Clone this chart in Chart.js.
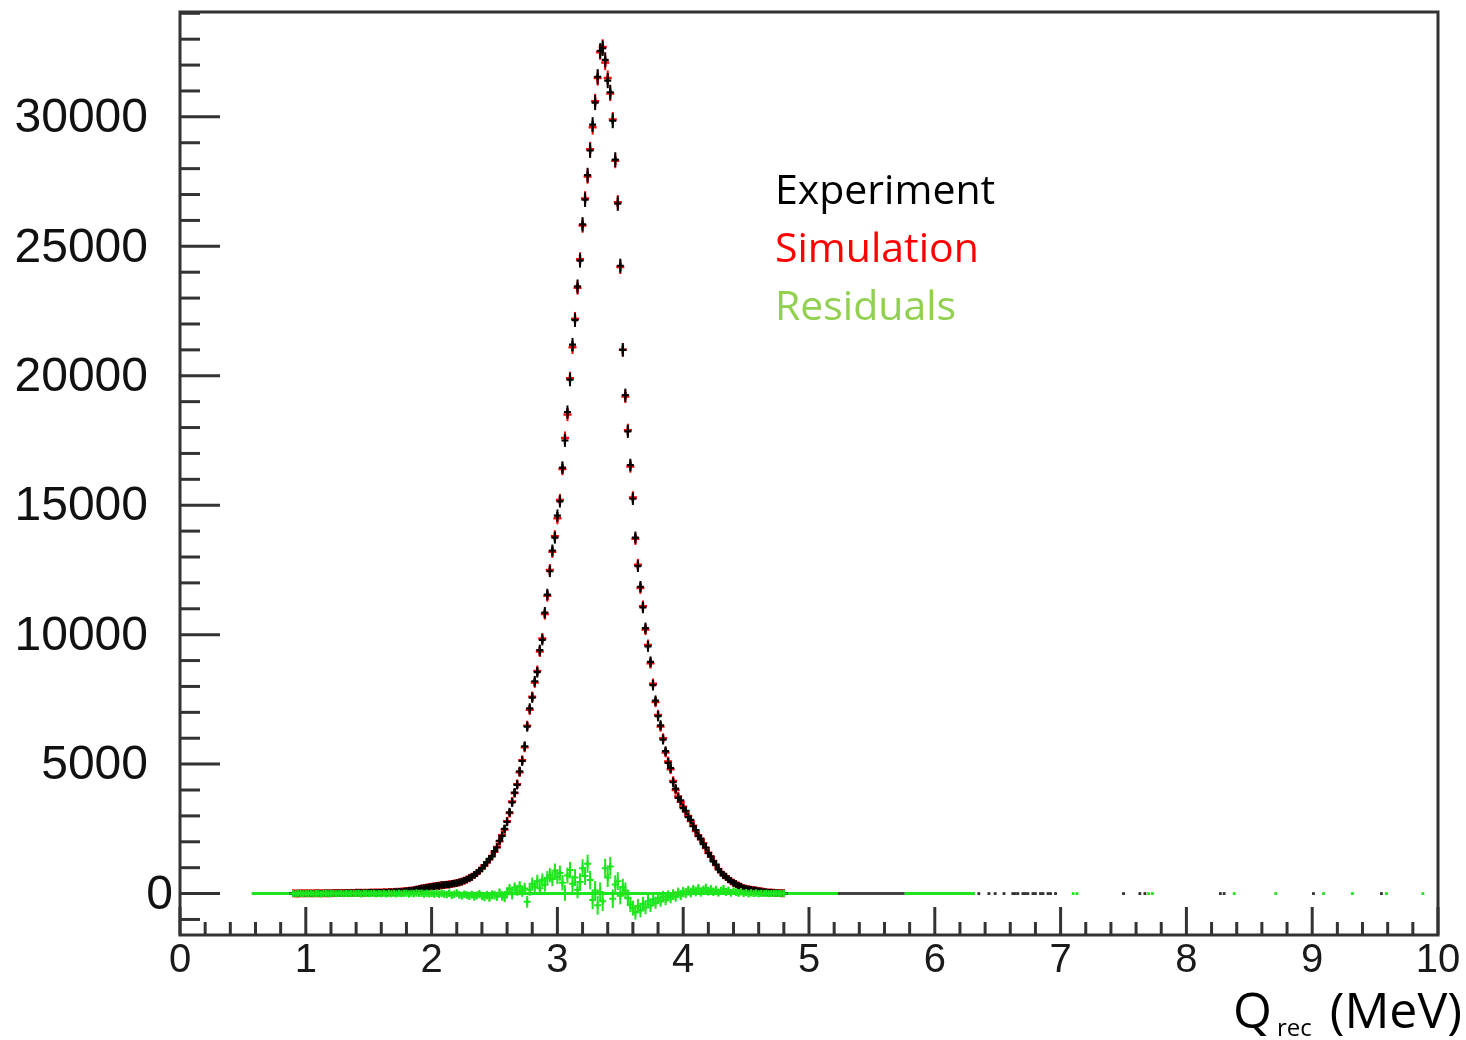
<!DOCTYPE html>
<html>
<head>
<meta charset="utf-8">
<script src="https://cdn.jsdelivr.net/npm/chart.js@4.4.1/dist/chart.umd.min.js"></script>
<style>
html, body { margin: 0; padding: 0; background: #fff; }
</style>
</head>
<body>
<canvas id="canvas" width="1466" height="1040"></canvas>
<script>
// histogram bins: centre of first bin and bin width (MeV)
var binStart = 0.90;
var binWidth = 0.02;

// counts per bin, 0.90 .. 4.80 MeV
var experiment = [
    5, 0, 10, 5, 0, 10, 5, 15, 5, 10,
    15, 5, 10, 20, 10, 15, 20, 10, 20, 25,
    15, 25, 20, 30, 25, 30, 35, 25, 35, 40,
    30, 40, 45, 35, 45, 40, 50, 45, 60, 55,
    70, 65, 80, 75, 90, 100, 110, 120, 135, 165,
    175, 205, 210, 235, 245, 270, 275, 300, 290, 330,
    330, 350, 340, 375, 385, 410, 440, 455, 505, 540,
    600, 640, 730, 780, 890, 970, 1100, 1200, 1340, 1440,
    1640, 1780, 2040, 2230, 2500, 2770, 3140, 3520, 3900, 4200,
    4720, 5120, 5690, 6450, 7150, 7570, 8200, 8550, 9400, 9800,
    10850, 11550, 12450, 13250, 13750, 14600, 15150, 16450, 17500, 18600,
    19850, 21200, 22150, 23450, 24450, 25850, 26800, 27750, 28700, 29700,
    30550, 31550, 32550, 32650, 32200, 31400, 30950, 29850, 28350, 26650,
    24250, 21000, 19250, 17850, 16550, 15250, 13750, 12650, 11850, 11050,
    10250, 9550, 8950, 8050, 7450, 6850, 6500, 5950, 5500, 5050,
    4850, 4300, 4050, 3700, 3600, 3300, 3200, 2950, 2850, 2600,
    2450, 2220, 2120, 1910, 1780, 1560, 1440, 1240, 1120, 930,
    840, 700, 660, 540, 490, 410, 370, 300, 270, 210,
    195, 165, 155, 130, 125, 95, 90, 65, 60, 40,
    45, 25, 30, 15, 20, 10
];

var simulation = [
    8, 6, 7, 8, 9, 9, 10, 10, 11, 12,
    12, 13, 14, 15, 16, 17, 18, 19, 20, 21,
    22, 23, 24, 25, 26, 28, 29, 30, 32, 33,
    35, 37, 39, 41, 43, 45, 48, 52, 56, 60,
    65, 70, 75, 82, 88, 96, 106, 116, 130, 150,
    172, 196, 216, 232, 250, 265, 282, 295, 310, 322,
    336, 345, 356, 370, 390, 410, 432, 462, 500, 548,
    592, 652, 718, 792, 878, 982, 1088, 1212, 1328, 1452,
    1618, 1802, 2018, 2252, 2478, 2792, 3108, 3555, 3880, 4225,
    4690, 5150, 5650, 6480, 7100, 7600, 8150, 8600, 9350, 9850,
    10800, 11500, 12500, 13200, 13800, 14500, 15200, 16400, 17600, 18500,
    19900, 21100, 22200, 23400, 24500, 25800, 26850, 27700, 28750, 29600,
    30600, 31500, 32500, 32700, 32100, 31500, 30900, 29900, 28300, 26700,
    24200, 21000, 19200, 17900, 16500, 15300, 13700, 12700, 11800, 11100,
    10200, 9600, 8900, 8100, 7400, 6900, 6450, 6000, 5450, 5100,
    4800, 4350, 4000, 3750, 3550, 3350, 3180, 3000, 2800, 2620,
    2420, 2250, 2100, 1940, 1760, 1580, 1420, 1260, 1100, 950,
    820, 720, 650, 560, 480, 420, 360, 310, 260, 220,
    190, 170, 150, 140, 120, 100, 85, 70, 55, 45,
    40, 30, 25, 20, 15, 10
];

var residuals = [
    5, -10, 8, 0, -6, 10, -4, 12, -8, 3,
    6, -12, 4, 10, -8, 5, 12, -10, 6, 8,
    -10, 6, -8, 12, 0, 5, 14, -12, 8, 10,
    -8, 6, 10, -12, 6, -10, 8, -15, 12, -8,
    10, -12, 15, -10, 8, 12, -15, 10, -5, 20,
    5, 15, -20, 10, -10, 12, -18, 8, -30, 15,
    -20, -40, 10, -60, -30, 20, -50, -80, -30, -60,
    -100, -40, -120, -70, -20, -90, -130, -60, -150, -50,
    -60, -110, 20, -90, -150, 60, 180, -30, 230, 120,
    270, 90, 200, -320, 150, 380, 260, 480, 210, 520,
    340, 600, 710, 560, 880, 650, 790, 420, 20, 700,
    910, 380, 620, 150, 450, 980, 680, 1150, 520, -250,
    120, -450, 60, -300, 980, 620, 1050, -200, 350, 480,
    -80, 250, 120, -180, -420, -560, -720, -480, -650, -390,
    -540, -300, -460, -220, -350, -180, -280, -120, -230, -90,
    -160, -40, -110, 30, -60, 60, 20, 110, 40, 150,
    80, 190, 60, 130, 210, 90, 160, 70, 140, 40,
    110, 180, 60, 120, 30, 90, 50, 20, 70, 10,
    40, -10, 30, 0, 20, -10, 10, 0, 15, -5,
    5, 0, 10, 0, 5, 0
];

// isolated low-count bins in the high-energy tail
var tailExpX = [6.35, 6.43, 6.48, 6.55, 6.62, 6.64, 6.66, 6.70, 6.72, 6.74, 6.78, 6.80,
    6.84, 6.86, 6.90, 6.92, 6.96, 7.50, 7.63, 7.67, 8.27, 8.30, 9.01, 9.55];
var tailResX = [7.10, 7.13, 7.70, 7.73, 8.38, 8.71, 9.09, 9.32, 9.59, 9.88];

// empty bins drawn as a flat line at zero
var resZeroRanges = [[0.57, 5.23], [5.76, 6.32]];
var expZeroRanges = [[5.23, 5.76]];

// tick labels
var xTickValues = [0, 1, 2, 3, 4, 5, 6, 7, 8, 9, 10];
var yTickValues = [0, 5000, 10000, 15000, 20000, 25000, 30000];

var legendLabels = ['Experiment', 'Simulation', 'Residuals'];
var legendColors = ['#000000', '#ff0000', '#92d050'];

function binX(i) {
    return Math.round((binStart + i * binWidth) * 1000) / 1000;
}
function toPoints(arr) {
    return arr.map(function(v, i) { return {x: binX(i), y: v}; });
}

var expErr = experiment.map(function(v) { return Math.sqrt(Math.max(v, 0)); });
var simErr = simulation.map(function(v) { return Math.sqrt(Math.max(v, 0)); });
var resErr = residuals.map(function(v, i) { return Math.sqrt(experiment[i] + simulation[i]); });

// vertical error bars, drawn right after each dataset
var errorBars = {
    id: 'errorBars',
    afterDatasetDraw: function(chart, args) {
        var ds = chart.data.datasets[args.index];
        if (!ds.errors) return;
        var ctx = chart.ctx, xs = chart.scales.x, ys = chart.scales.y, a = chart.chartArea;
        ctx.save();
        ctx.beginPath();
        ctx.rect(a.left, a.top, a.right - a.left, a.bottom - a.top);
        ctx.clip();
        ctx.strokeStyle = ds.borderColor;
        ctx.lineWidth = 2;
        ds.data.forEach(function(p, i) {
            var e = ds.errors[i];
            if (e < 1) return;
            var px = xs.getPixelForValue(p.x);
            ctx.beginPath();
            ctx.moveTo(px, ys.getPixelForValue(p.y - e) + 3);
            ctx.lineTo(px, ys.getPixelForValue(p.y + e) - 3);
            ctx.stroke();
        });
        ctx.restore();
    }
};

// ROOT style frame with inner ticks, text labels
var frame = {
    id: 'frame',
    afterDraw: function(chart) {
        var ctx = chart.ctx, a = chart.chartArea, xs = chart.scales.x, ys = chart.scales.y;
        var v, k, p, len, size;
        ctx.save();
        ctx.strokeStyle = '#333333';
        ctx.lineWidth = 3;
        for (v = -1000; v <= 34000; v += 1000) {
            p = ys.getPixelForValue(v);
            len = (v % 5000 === 0) ? 40 : 20;
            ctx.beginPath();
            ctx.moveTo(a.left, p);
            ctx.lineTo(a.left + len, p);
            ctx.stroke();
        }
        for (k = 0; k <= 50; k++) {
            p = xs.getPixelForValue(k * 0.2);
            len = (k % 5 === 0) ? 28 : 13;
            ctx.beginPath();
            ctx.moveTo(p, a.bottom);
            ctx.lineTo(p, a.bottom - len);
            ctx.stroke();
        }
        ctx.strokeRect(a.left, a.top, a.right - a.left, a.bottom - a.top);

        // y tick labels (ROOT puts the lone "0" closer to the axis)
        ctx.fillStyle = '#111111';
        ctx.font = '48px "Liberation Sans"';
        ctx.textAlign = 'right';
        ctx.textBaseline = 'middle';
        yTickValues.forEach(function(t) {
            ctx.fillText(String(t), t === 0 ? 173 : 148, ys.getPixelForValue(t) + 2);
        });

        // legend text, sized so "Experiment" is about 222px wide
        ctx.textAlign = 'left';
        ctx.font = '100px "Open Sans"';
        size = Math.round(100 * 222 / ctx.measureText(legendLabels[0]).width);
        ctx.font = size + 'px "Open Sans"';
        legendLabels.forEach(function(t, i) {
            ctx.fillStyle = legendColors[i];
            ctx.fillText(t, 775, 192 + i * 58);
        });

        // axis title
        ctx.fillStyle = '#000000';
        ctx.textBaseline = 'alphabetic';
        ctx.font = '50px "Open Sans"';
        ctx.fillText('Q', 1233, 1028);
        ctx.font = '24px "Open Sans"';
        ctx.fillText('rec', 1277, 1036);
        ctx.font = '50px "Open Sans"';
        ctx.textAlign = 'right';
        ctx.fillText('(MeV)', 1462, 1028);
        ctx.restore();
    }
};

var ds = [];
ds.push({
    label: 'Residuals', data: toPoints(residuals), errors: resErr,
    borderColor: '#1ee61e', backgroundColor: '#1ee61e',
    pointStyle: 'cross', pointRadius: 3.5, borderWidth: 2, showLine: false, order: 0
});
ds.push({
    label: 'Experiment', data: toPoints(experiment), errors: expErr,
    borderColor: '#000000', backgroundColor: '#000000',
    pointStyle: 'cross', pointRadius: 3.5, borderWidth: 2.2, showLine: false, order: 1
});
ds.push({
    label: 'Simulation', data: toPoints(simulation), errors: simErr,
    borderColor: '#ff0000', backgroundColor: '#ff0000',
    pointStyle: 'cross', pointRadius: 4, borderWidth: 2.5, showLine: false, order: 2
});
ds.push({
    label: 'Experiment tail', data: tailExpX.map(function(x) { return {x: x, y: 0}; }),
    borderColor: '#333333', backgroundColor: '#333333',
    pointStyle: 'rect', pointRadius: 2, borderWidth: 0, showLine: false, order: 1
});
ds.push({
    label: 'Residual tail', data: tailResX.map(function(x) { return {x: x, y: 0}; }),
    borderColor: '#1ee61e', backgroundColor: '#1ee61e',
    pointStyle: 'rect', pointRadius: 2, borderWidth: 0, showLine: false, order: 0
});
expZeroRanges.forEach(function(r) {
    ds.push({
        label: 'Experiment empty', data: [{x: r[0], y: 0}, {x: r[1], y: 0}],
        borderColor: '#444444', borderWidth: 3, pointRadius: 0, showLine: true, order: 3
    });
});
resZeroRanges.forEach(function(r) {
    ds.push({
        label: 'Residual empty', data: [{x: r[0], y: 0}, {x: r[1], y: 0}],
        borderColor: '#1ee61e', borderWidth: 3, pointRadius: 0, showLine: true, order: 4
    });
});

var ctx = document.getElementById('canvas').getContext('2d');
var myChart = new Chart(ctx, {
    type: 'scatter',
    data: { datasets: ds },
    options: {
        responsive: false,
        animation: false,
        devicePixelRatio: 1,
        layout: { padding: { top: 12, right: 28, left: 0, bottom: 0 } },
        plugins: {
            legend: { display: false },
            tooltip: { enabled: false }
        },
        scales: {
            x: {
                type: 'linear', min: 0, max: 10,
                grid: { display: false },
                border: { display: false },
                afterBuildTicks: function(scale) {
                    scale.ticks = xTickValues.map(function(v) { return {value: v}; });
                },
                ticks: {
                    padding: -6,
                    color: '#1a1a1a',
                    font: { family: 'Liberation Sans', size: 40 },
                    callback: function(v) { return String(v); }
                },
                afterFit: function(scale) {
                    scale.height = 105;
                    scale.paddingLeft = 0;
                    scale.paddingRight = 0;
                }
            },
            y: {
                type: 'linear', min: -1600, max: 34050,
                grid: { display: false },
                border: { display: false },
                ticks: { display: false },
                afterFit: function(scale) {
                    scale.width = 180;
                    scale.paddingTop = 0;
                    scale.paddingBottom = 0;
                }
            }
        }
    },
    plugins: [errorBars, frame]
});
</script>
</body>
</html>
